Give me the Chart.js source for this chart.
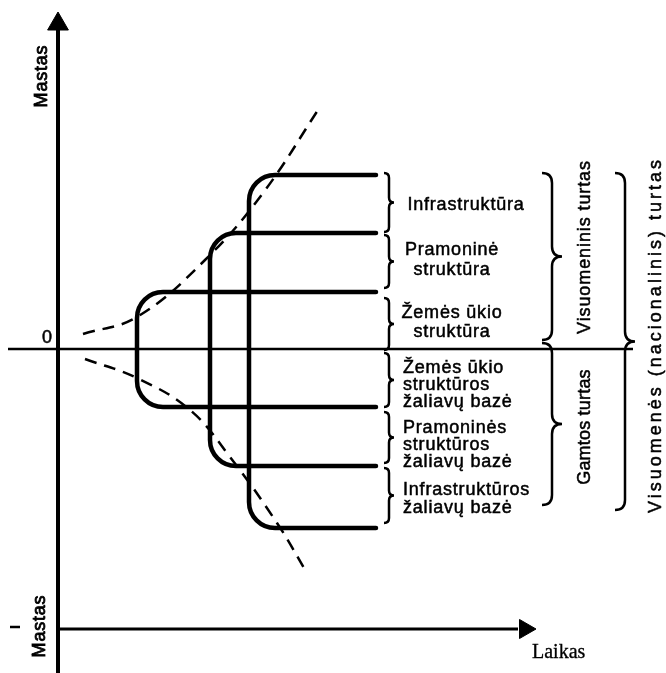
<!DOCTYPE html>
<html>
<head>
<meta charset="utf-8">
<script src="https://cdn.jsdelivr.net/npm/chart.js"></script>
<style>
  body { margin: 0; background: #fff; }
  canvas { display: block; }
</style>
</head>
<body>
<canvas id="scheme" width="666" height="673"></canvas>
<script>
// units: x = Laikas, y = Mastas (0 = zero line)
var bracketX = [7.9, 15.2, 19.1];           // where each structure starts in time
var structureTop = [5.7, 11.6, 17.4];       // Žemės ūkio, Pramoninė, Infrastruktūra
var baseBottom = [-5.8, -11.7, -17.9];      // their raw material bases
var barEnd = 31.8;

// dashed envelopes
var upperX = [2.5, 7.9, 14.7, 20.5, 26.2];
var upperY = [1.5, 3.2, 8.9, 15.6, 24.2];
var lowerX = [2.7, 7.9, 13.2, 17.2, 21.9, 24.9];
var lowerY = [-1.0, -2.9, -6.1, -10.8, -17.4, -22.4];

var structureLabels = [['Infrastruktūra'], ['Pramoninė', 'struktūra'], ['Žemės ūkio', 'struktūra']];
var baseLabels = [['Žemės ūkio', 'struktūros', 'žaliavų bazė'], ['Pramoninės', 'struktūros', 'žaliavų bazė'], ['Infrastruktūros', 'žaliavų bazė']];
var groupLabels = ['Visuomeninis turtas', 'Gamtos turtas', 'Visuomenės (nacionalinis) turtas'];

// small braces between the bars [from, to]
var smallBraces = [[17.6, 11.7], [11.4, 6.1], [5.1, -0.1], [-0.4, -5.8], [-6.3, -11.4], [-11.9, -17.4]];
// big braces: [x, from, to, width]
var bigBraces = [[48.4, 17.6, 0.9, 2], [48.4, 0.6, -15.6, 2], [55.7, 17.6, -16.1, 2]];

function pts(xs, ys) {
    var out = [];
    for (var i = 0; i < xs.length; i++) out.push({x: xs[i], y: ys[i]});
    return out;
}

var datasets = [];

// brackets (drawn with rounded corners by the plugin below)
for (var i = 0; i < bracketX.length; i++) {
    datasets.push({
        data: [{x: barEnd, y: structureTop[i]}, {x: bracketX[i], y: structureTop[i]},
               {x: bracketX[i], y: baseBottom[i]}, {x: barEnd, y: baseBottom[i]}],
        borderColor: '#000', borderWidth: 4.5, pointRadius: 0, cornerRadius: 26, showLine: true
    });
}

// axes
datasets.push({data: [{x: 0, y: 32}, {x: 0, y: -32.4}], borderColor: '#000', borderWidth: 4, pointRadius: 0, showLine: true});
datasets.push({data: [{x: -5, y: 0}, {x: 57.5, y: 0}], borderColor: '#000', borderWidth: 2.5, pointRadius: 0, showLine: true});
datasets.push({data: [{x: 0, y: -28}, {x: 46, y: -28}], borderColor: '#000', borderWidth: 3, pointRadius: 0, showLine: true});
datasets.push({data: [{x: -4.8, y: -27.8}, {x: -3.8, y: -27.8}], borderColor: '#000', borderWidth: 2.5, pointRadius: 0, showLine: true});
// arrow heads
datasets.push({
    data: [{x: 0, y: 32.5}, {x: 46.7, y: -28}],
    pointStyle: 'triangle', pointRotation: [0, 90], pointRadius: [12, 11],
    backgroundColor: '#000', borderColor: '#000', borderWidth: 1, showLine: false
});

// dashed curves
datasets.push({data: pts(upperX, upperY), borderColor: '#000', borderWidth: 2.5, borderDash: [12, 8], tension: 0.4, pointRadius: 0, showLine: true});
datasets.push({data: pts(lowerX, lowerY), borderColor: '#000', borderWidth: 2.5, borderDash: [12, 8], tension: 0.4, pointRadius: 0, showLine: true});

var roundedCorners = {
    id: 'roundedCorners',
    beforeDatasetDraw: function(chart, args) {
        var ds = chart.data.datasets[args.index];
        if (!ds.cornerRadius) return;
        var p = args.meta.data, ctx = chart.ctx;
        ctx.save();
        ctx.strokeStyle = ds.borderColor;
        ctx.lineWidth = ds.borderWidth;
        ctx.lineCap = 'round';
        ctx.beginPath();
        ctx.moveTo(p[0].x, p[0].y);
        for (var k = 1; k < p.length - 1; k++) {
            ctx.arcTo(p[k].x, p[k].y, p[k + 1].x, p[k + 1].y, ds.cornerRadius);
        }
        ctx.lineTo(p[p.length - 1].x, p[p.length - 1].y);
        ctx.stroke();
        ctx.restore();
        return false;
    }
};

function brace(ctx, x, y1, y2, w) {
    var ym = (y1 + y2) / 2, h = w / 2;
    ctx.moveTo(x, y1);
    ctx.quadraticCurveTo(x + h, y1, x + h, y1 + h);
    ctx.lineTo(x + h, ym - h);
    ctx.quadraticCurveTo(x + h, ym, x + w, ym);
    ctx.quadraticCurveTo(x + h, ym, x + h, ym + h);
    ctx.lineTo(x + h, y2 - h);
    ctx.quadraticCurveTo(x + h, y2, x, y2);
}

// scanned print is a little heavy, so fill + thin stroke
function txt(ctx, t, x, y) {
    ctx.fillText(t, x, y);
    ctx.strokeText(t, x, y);
}

function rotText(ctx, t, x, y, spacing) {
    ctx.save();
    ctx.translate(x, y);
    ctx.rotate(-Math.PI / 2);
    ctx.letterSpacing = spacing + 'px';
    ctx.textAlign = 'center';
    txt(ctx, t, 0, 0);
    ctx.restore();
}

var annotations = {
    id: 'annotations',
    afterDatasetsDraw: function(chart) {
        var ctx = chart.ctx, sx = chart.scales.x, sy = chart.scales.y;
        var X = function(v) { return sx.getPixelForValue(v); };
        var Y = function(v) { return sy.getPixelForValue(v); };
        ctx.save();
        ctx.strokeStyle = '#000';
        ctx.fillStyle = '#000';
        ctx.lineWidth = 2.5;

        // braces
        ctx.beginPath();
        smallBraces.forEach(function(b) { brace(ctx, X(32.6), Y(b[0]), Y(b[1]), 10); });
        bigBraces.forEach(function(b) { brace(ctx, X(b[0]), Y(b[1]), Y(b[2]), b[3] * 10); });
        ctx.stroke();

        ctx.lineWidth = 0.5;
        ctx.font = '18px "Liberation Sans", Arial, sans-serif';
        ctx.textBaseline = 'alphabetic';
        ctx.letterSpacing = '0.8px';

        // structure labels (centred)
        ctx.textAlign = 'center';
        var sPos = [[40.8, [13.9]], [39.4, [9.4, 7.4]], [39.4, [3.1, 1.2]]];
        structureLabels.forEach(function(lines, i) {
            lines.forEach(function(t, j) { txt(ctx, t, X(sPos[i][0]), Y(sPos[i][1][j])); });
        });

        // raw material labels (left aligned)
        ctx.textAlign = 'left';
        var bPos = [[-2.4, -4.1, -5.8], [-8.4, -10.1, -11.8], [-14.6, -16.4]];
        baseLabels.forEach(function(lines, i) {
            lines.forEach(function(t, j) { txt(ctx, t, X(34.5), Y(bPos[i][j])); });
        });

        // axis texts
        txt(ctx, '0', X(-1.6), Y(0.6));
        ctx.lineWidth = 0.8;
        rotText(ctx, 'Mastas', X(-1.1), Y(27.3), 0.8);
        rotText(ctx, 'Mastas', X(-1.3), Y(-27.7), 0.8);
        ctx.lineWidth = 0.5;

        // group labels
        rotText(ctx, groupLabels[0], X(53.2), Y(10.2), 0.9);
        rotText(ctx, groupLabels[1], X(53.2), Y(-7.8), 0.2);
        rotText(ctx, groupLabels[2], X(60.3), Y(1.4), 3);

        ctx.letterSpacing = '0px';
        ctx.textAlign = 'left';
        ctx.lineWidth = 0.3;
        ctx.font = '20px "Liberation Serif", "Times New Roman", serif';
        txt(ctx, 'Laikas', X(47.4), Y(-30.9));
        ctx.restore();
    }
};

new Chart(document.getElementById('scheme'), {
    type: 'scatter',
    data: {datasets: datasets},
    options: {
        responsive: false,
        animation: false,
        devicePixelRatio: 1,
        layout: {padding: 0, autoPadding: false},
        plugins: {legend: {display: false}, tooltip: {enabled: false}},
        scales: {
            x: {type: 'linear', min: -5.8, max: 60.8, display: false},
            y: {type: 'linear', min: -32.4, max: 34.9, display: false}
        }
    },
    plugins: [roundedCorners, annotations]
});
</script>
</body>
</html>
